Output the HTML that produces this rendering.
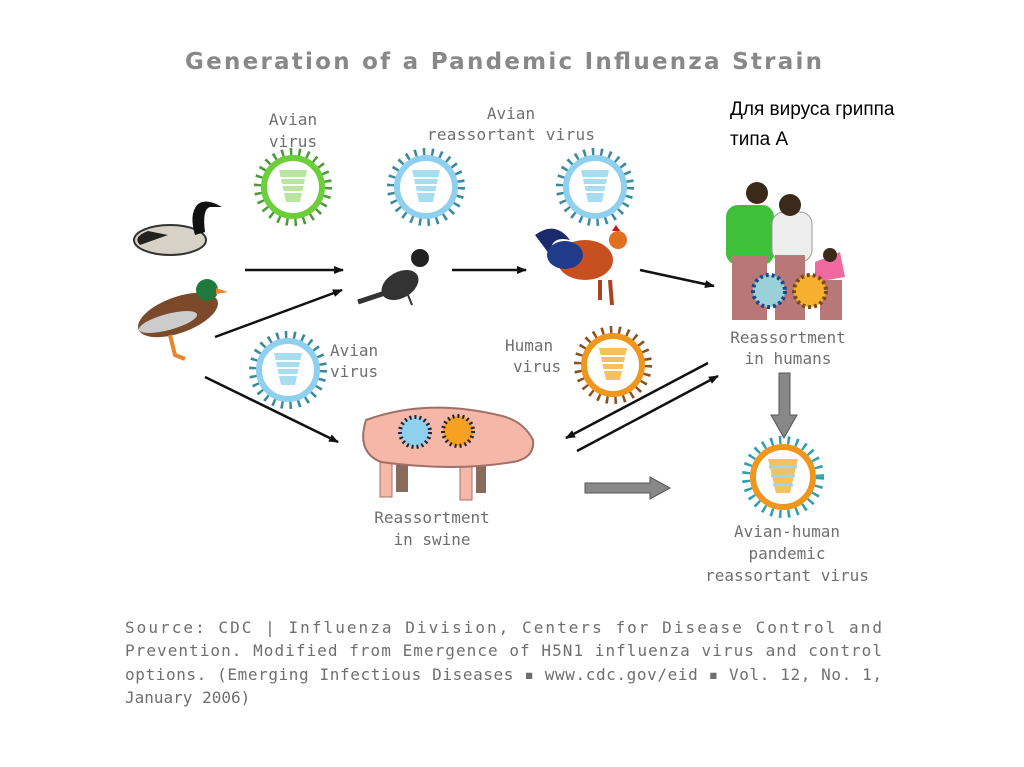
<!DOCTYPE html>
<html><head><meta charset="utf-8"><style>
html,body{margin:0;padding:0;background:#fff;}
svg{display:block}
.t{font-family:"DejaVu Sans Mono","Liberation Mono",monospace;fill:#6f6f6f;font-size:16px;}
</style></head><body>
<svg width="1024" height="767" viewBox="0 0 1024 767" xmlns="http://www.w3.org/2000/svg">
<defs>
<marker id="ah" markerWidth="10" markerHeight="8" refX="9" refY="4" orient="auto" markerUnits="userSpaceOnUse"><path d="M0,0 L10,4 L0,8 z" fill="#111"/></marker>
<g id="vg">
<circle r="35" fill="none" stroke="#4c9a3a" stroke-width="8" stroke-dasharray="2.5 6"/>
<circle r="29" fill="#fff" stroke="#6ccf3a" stroke-width="6"/>
<polygon points="-14,-17 14,-17 7,15 -7,15" fill="#b8e6a0"/>
<g stroke="#fff" stroke-width="2"><line x1="-14" y1="-9" x2="14" y2="-9"/><line x1="-13" y1="-2" x2="13" y2="-2"/><line x1="-12" y1="5" x2="12" y2="5"/></g>
</g>
<g id="vb">
<circle r="35" fill="none" stroke="#3a8a9a" stroke-width="8" stroke-dasharray="2.5 6"/>
<circle r="29" fill="#fff" stroke="#8fd0ee" stroke-width="6"/>
<polygon points="-14,-17 14,-17 7,15 -7,15" fill="#a8ddf0"/>
<g stroke="#fff" stroke-width="2"><line x1="-14" y1="-9" x2="14" y2="-9"/><line x1="-13" y1="-2" x2="13" y2="-2"/><line x1="-12" y1="5" x2="12" y2="5"/></g>
</g>
<g id="vo">
<circle r="35" fill="none" stroke="#8a5020" stroke-width="8" stroke-dasharray="2.5 6"/>
<circle r="29" fill="#fff" stroke="#f0961c" stroke-width="6"/>
<polygon points="-14,-17 14,-17 7,15 -7,15" fill="#f5c060"/>
<g stroke="#fff" stroke-width="2"><line x1="-14" y1="-9" x2="14" y2="-9"/><line x1="-13" y1="-2" x2="13" y2="-2"/><line x1="-12" y1="5" x2="12" y2="5"/></g>
</g>
<g id="vf">
<circle r="37" fill="none" stroke="#2aa0b0" stroke-width="8" stroke-dasharray="2.5 6"/>
<circle r="30" fill="#fff" stroke="#f0961c" stroke-width="6"/>
<polygon points="-15,-18 15,-18 7,16 -7,16" fill="#f5c060"/>
<g stroke="#9ad6ee" stroke-width="2.5"><line x1="-14" y1="-10" x2="14" y2="-10"/><line x1="-12" y1="-1" x2="12" y2="-1"/><line x1="-10" y1="8" x2="10" y2="8"/></g>
</g>
</defs>

<text x="185" y="69" font-family="DejaVu Sans,Liberation Sans,sans-serif" font-size="23" font-weight="bold" fill="#888" textLength="637">Generation of a Pandemic Influenza Strain</text>

<text x="730" y="115" font-family="Liberation Sans,sans-serif" font-size="19" fill="#000">Для вируса гриппа</text>
<text x="730" y="145" font-family="Liberation Sans,sans-serif" font-size="19" fill="#000">типа А</text>

<text class="t" x="293" y="125" text-anchor="middle">Avian</text>
<text class="t" x="293" y="147" text-anchor="middle">virus</text>
<text class="t" x="511" y="119" text-anchor="middle">Avian</text>
<text class="t" x="511" y="140" text-anchor="middle" textLength="168">reassortant virus</text>

<use href="#vg" x="293" y="187"/>
<use href="#vb" x="426" y="187"/>
<use href="#vb" x="595" y="187"/>
<use href="#vb" x="288" y="370"/>
<use href="#vo" x="613" y="365"/>
<use href="#vf" x="783" y="477"/>

<text class="t" x="330" y="356">Avian</text>
<text class="t" x="330" y="377">virus</text>
<text class="t" x="505" y="351">Human</text>
<text class="t" x="513" y="372">virus</text>
<text class="t" x="788" y="343" text-anchor="middle">Reassortment</text>
<text class="t" x="788" y="364" text-anchor="middle">in humans</text>
<text class="t" x="432" y="523" text-anchor="middle">Reassortment</text>
<text class="t" x="432" y="545" text-anchor="middle">in swine</text>
<text class="t" x="787" y="537" text-anchor="middle">Avian-human</text>
<text class="t" x="787" y="559" text-anchor="middle">pandemic</text>
<text class="t" x="787" y="581" text-anchor="middle">reassortant virus</text>

<text class="t" x="125" y="633" textLength="757">Source: CDC | Influenza Division, Centers for Disease Control and</text>
<text class="t" x="125" y="656" textLength="757">Prevention. Modified from Emergence of H5N1 influenza virus and control</text>
<text class="t" x="125" y="680" textLength="757">options. (Emerging Infectious Diseases ▪ www.cdc.gov/eid ▪ Vol. 12, No. 1,</text>
<text class="t" x="125" y="703">January 2006)</text>

<g stroke="#111" stroke-width="2.5" marker-end="url(#ah)">
<line x1="245" y1="270" x2="343" y2="270"/>
<line x1="215" y1="337" x2="342" y2="290"/>
<line x1="452" y1="270" x2="526" y2="270"/>
<line x1="640" y1="270" x2="714" y2="286"/>
<line x1="205" y1="377" x2="338" y2="442"/>
<line x1="708" y1="363" x2="566" y2="438"/>
<line x1="577" y1="451" x2="718" y2="376"/>
</g>
<polygon points="585,483 650,483 650,477 670,488 650,499 650,493 585,493" fill="#888" stroke="#555"/>
<polygon points="779,373 790,373 790,415 797,415 784,438 771,415 779,415" fill="#888" stroke="#555"/>

<g>
<ellipse cx="170" cy="240" rx="36" ry="15" fill="#d8d2c6" stroke="#333" stroke-width="2"/>
<path d="M140,245 q-8,-8 8,-14 l20,4 z" fill="#222"/>
<path d="M195,235 q-6,-20 2,-30 q8,-8 25,2 l-12,0 q-8,2 -5,25 z" fill="#111"/>
</g>
<g>
<ellipse cx="178" cy="315" rx="42" ry="18" fill="#7a4a2a" transform="rotate(-20 178 315)"/>
<ellipse cx="168" cy="322" rx="30" ry="8" fill="#ccc" transform="rotate(-15 168 322)"/>
<circle cx="207" cy="290" r="11" fill="#1e7a3a"/>
<polygon points="216,288 228,292 216,294" fill="#e8852a"/>
<path d="M170,335 l5,20 l10,4" stroke="#e8852a" stroke-width="4" fill="none"/>
</g>
<g>
<ellipse cx="400" cy="285" rx="20" ry="13" fill="#333" transform="rotate(-30 400 285)"/>
<circle cx="420" cy="258" r="9" fill="#222"/>
<line x1="385" y1="293" x2="358" y2="302" stroke="#333" stroke-width="5"/>
<line x1="408" y1="295" x2="412" y2="305" stroke="#333" stroke-width="2"/>
</g>
<g>
<path d="M535,235 q20,-15 35,5 q-20,-5 -20,15 z" fill="#1a2a6a"/>
<ellipse cx="585" cy="260" rx="28" ry="20" fill="#c85020"/>
<ellipse cx="565" cy="255" rx="18" ry="14" fill="#223a8a"/>
<circle cx="618" cy="240" r="9" fill="#e07020"/>
<path d="M612,231 l4,-6 l4,6 z" fill="#d01010"/>
<path d="M600,280 l0,20 M610,280 l2,25" stroke="#b04020" stroke-width="4"/>
</g>
<g>
<rect x="726" y="205" width="48" height="60" rx="12" fill="#3fbf3a"/>
<circle cx="757" cy="193" r="11" fill="#3a2a1a"/>
<rect x="732" y="255" width="35" height="65" fill="#b87878"/>
<rect x="772" y="212" width="40" height="50" rx="12" fill="#eee" stroke="#999"/>
<circle cx="790" cy="205" r="11" fill="#3a2a1a"/>
<rect x="775" y="255" width="30" height="65" fill="#b87878"/>
<path d="M815,262 l25,-10 l5,25 l-30,5 z" fill="#ee6aa0"/>
<circle cx="830" cy="255" r="7" fill="#3a2a1a"/>
<rect x="820" y="280" width="22" height="40" fill="#b87878"/>
<circle cx="769" cy="291" r="16" fill="#9ad0d8" stroke="#1a4a8a" stroke-width="4" stroke-dasharray="3 3"/>
<circle cx="810" cy="291" r="16" fill="#f5b030" stroke="#7a4a10" stroke-width="4" stroke-dasharray="3 3"/>
</g>
<g>
<rect x="380" y="455" width="12" height="42" fill="#f5b8a8" stroke="#a07068"/>
<rect x="396" y="455" width="12" height="37" fill="#8a6a5a"/>
<rect x="460" y="458" width="12" height="42" fill="#f5b8a8" stroke="#a07068"/>
<rect x="476" y="458" width="10" height="35" fill="#8a6a5a"/>
<path d="M366,420 q60,-22 132,-5 q25,5 35,25 q2,18 -20,22 q-60,10 -132,0 q-25,-10 -15,-42 z" fill="#f5b8a8" stroke="#a07068" stroke-width="2"/>
<circle cx="415" cy="432" r="15" fill="#8fd0ee" stroke="#223" stroke-width="4" stroke-dasharray="2 3"/>
<circle cx="458" cy="431" r="15" fill="#f5a020" stroke="#223" stroke-width="4" stroke-dasharray="2 3"/>
</g>
</svg>
</body></html>
